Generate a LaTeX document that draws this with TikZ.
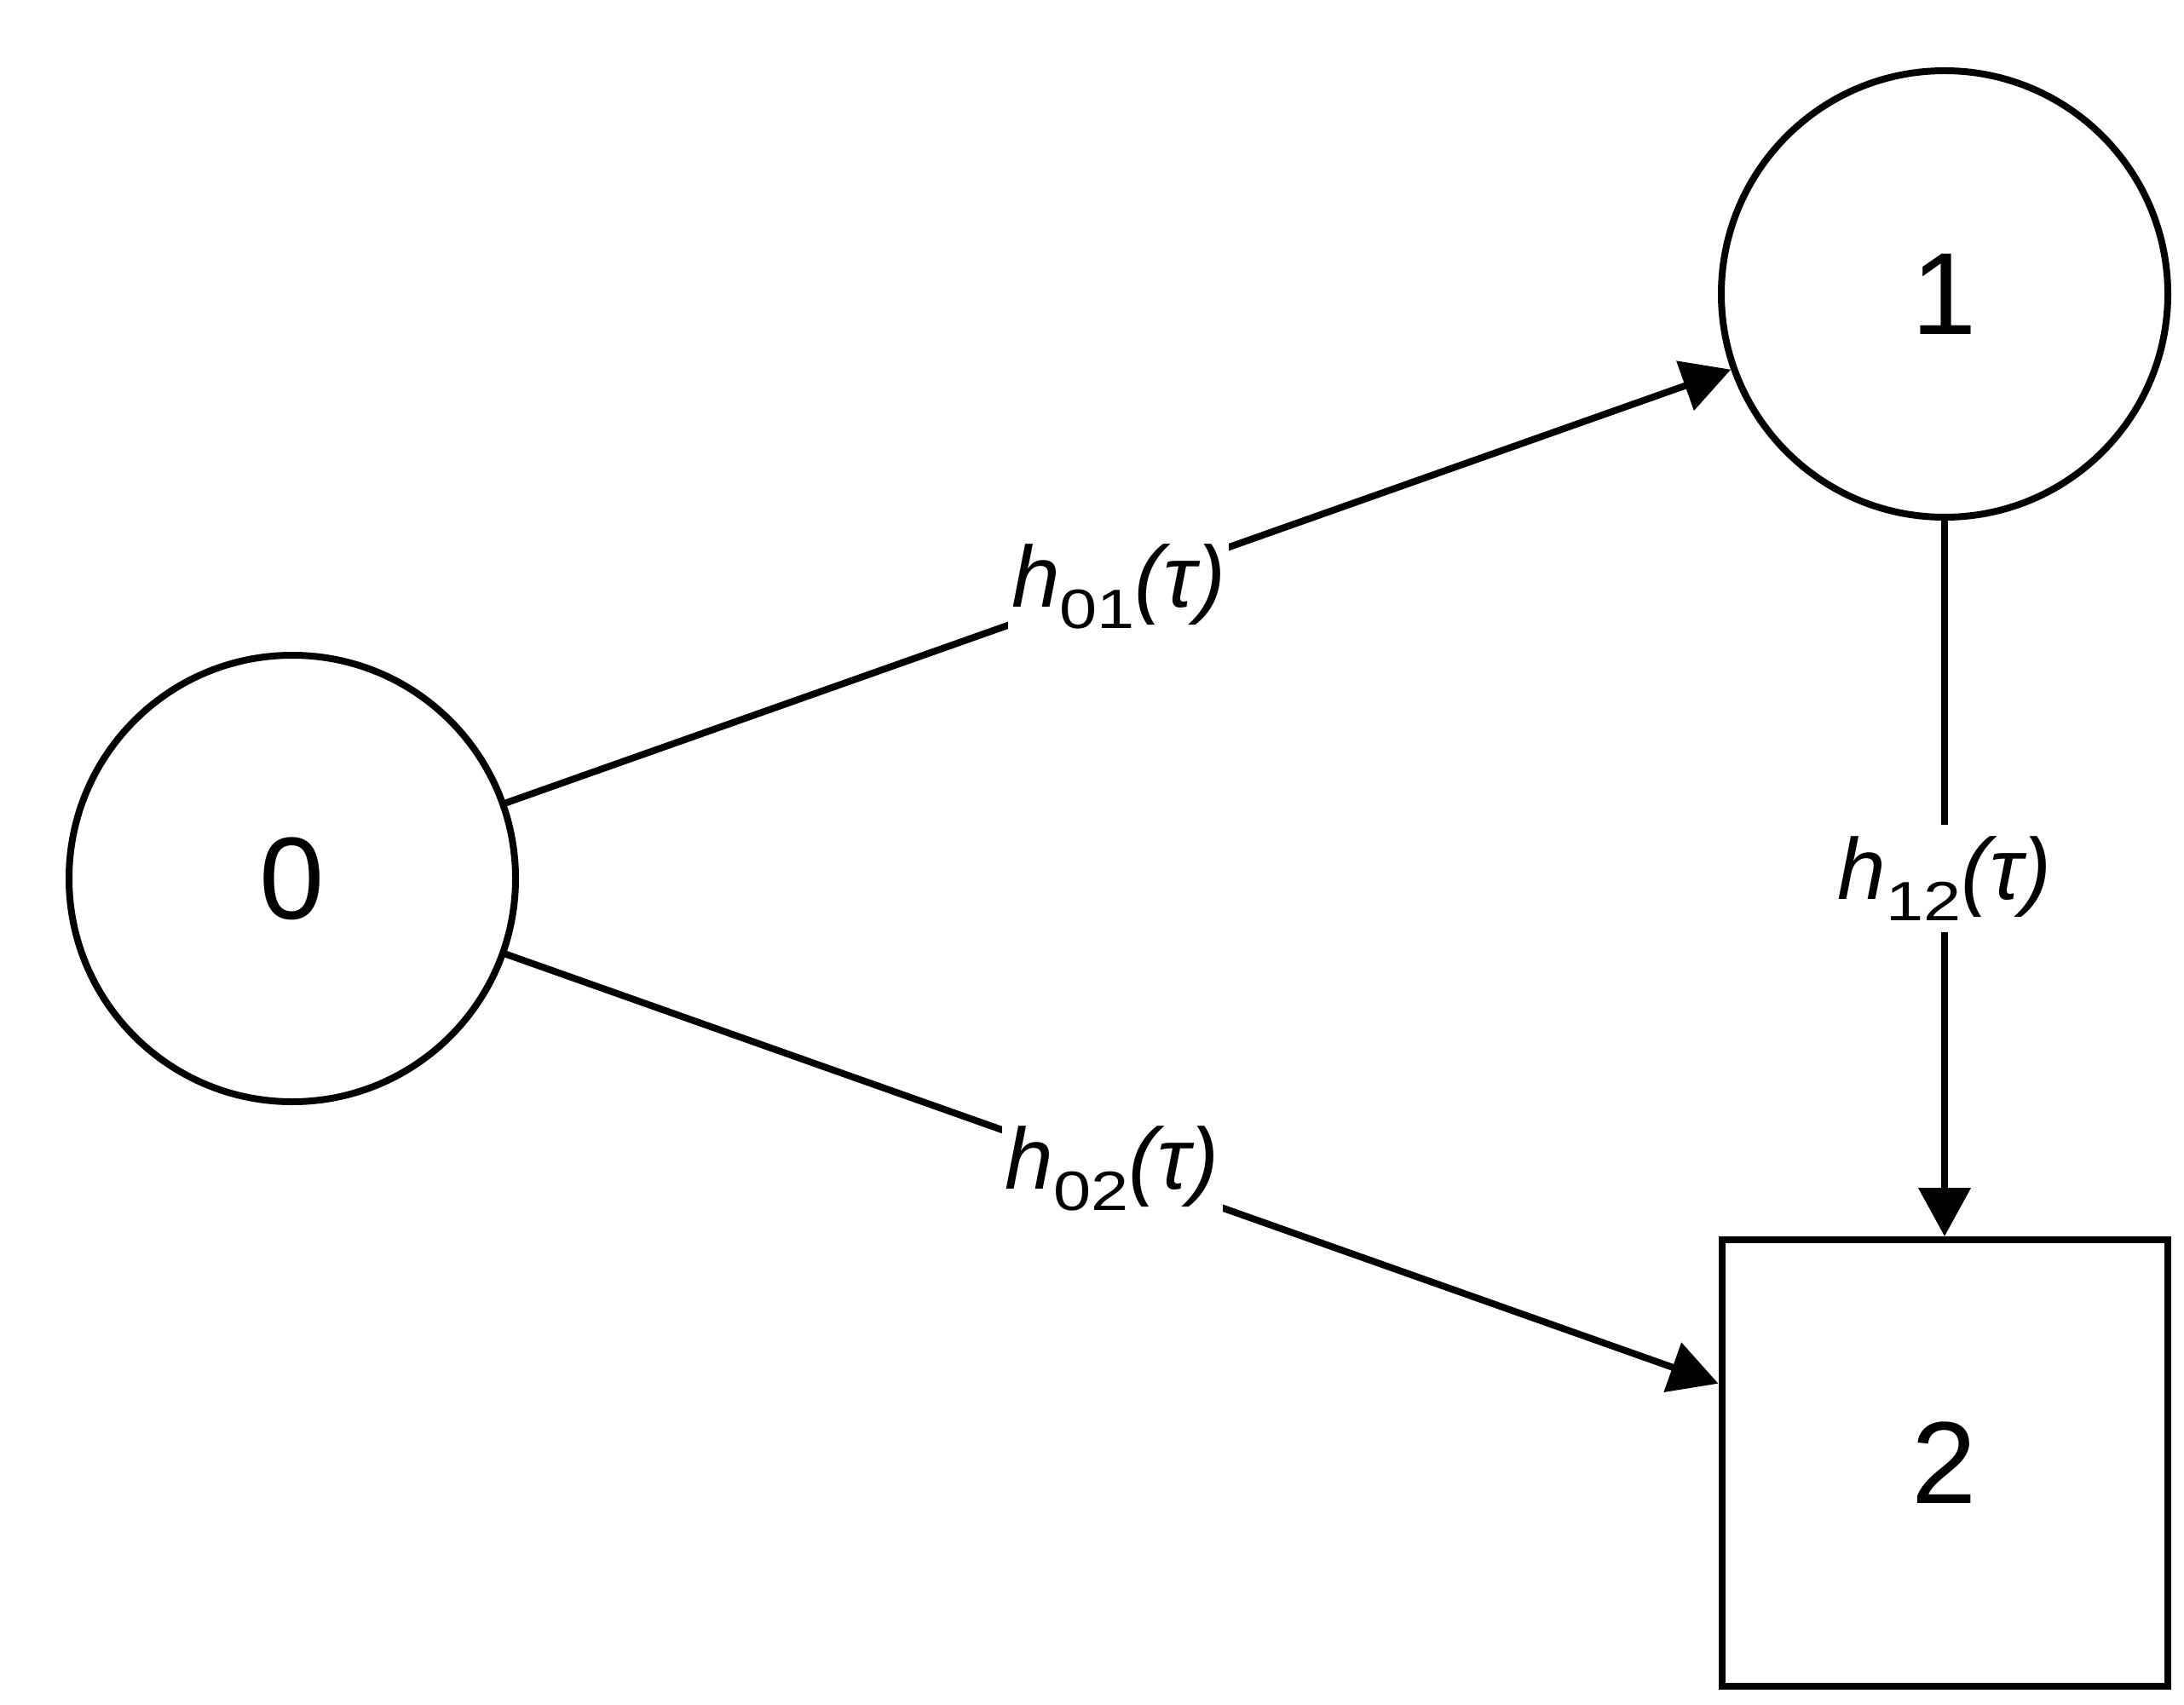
\documentclass[tikz,border=0pt]{standalone}
\usepackage{fontspec}
\setmainfont{Liberation Sans}
\usetikzlibrary{arrows.meta}

\newcommand{\rate}[1]{\textit{h}\raisebox{-0.25cm}{\scalebox{1.22}[1]{\fontsize{18.5}{18.5}\selectfont #1}}\textit{(τ)}}

\begin{document}
\begin{tikzpicture}
        \tikzstyle{state_node}   = [shape = circle,    draw = black, line width=0.08cm, minimum size=5.24cm, inner sep=0pt, font=\fontsize{39}{39}\selectfont]
        \tikzstyle{state_absorb} = [shape = rectangle, draw = black, line width=0.08cm, minimum width=5.23cm, minimum height=5.24cm, inner sep=0pt, font=\fontsize{39}{39}\selectfont]
        \tikzstyle{rate_label}   = [fill = white, inner xsep=0.04cm, inner ysep=0.14cm, font=\fontsize{29}{29}\selectfont]
        \tikzstyle{trans}        = [-{Triangle[length=0.57cm, width=0.6cm]}, line width=0.08cm]

        \useasboundingbox (0,0) rectangle (25.63,-20.01);

        \node[state_node]   at ( 3.43, -10.31) (n0) {0};
        \node[state_node]   at (22.82,  -3.45) (n1) {1};
        \node[state_absorb] at (22.82, -17.17) (n2) {2};

        \draw[trans]
          (n0) -- node[rate_label] {\rate{01}} (n1);
        \draw[trans]
          (n0) -- node[rate_label] {\rate{02}} (n2);
        \draw[trans]
          (n1) -- node[rate_label] {\rate{12}} (n2);
      \end{tikzpicture}
\end{document}
